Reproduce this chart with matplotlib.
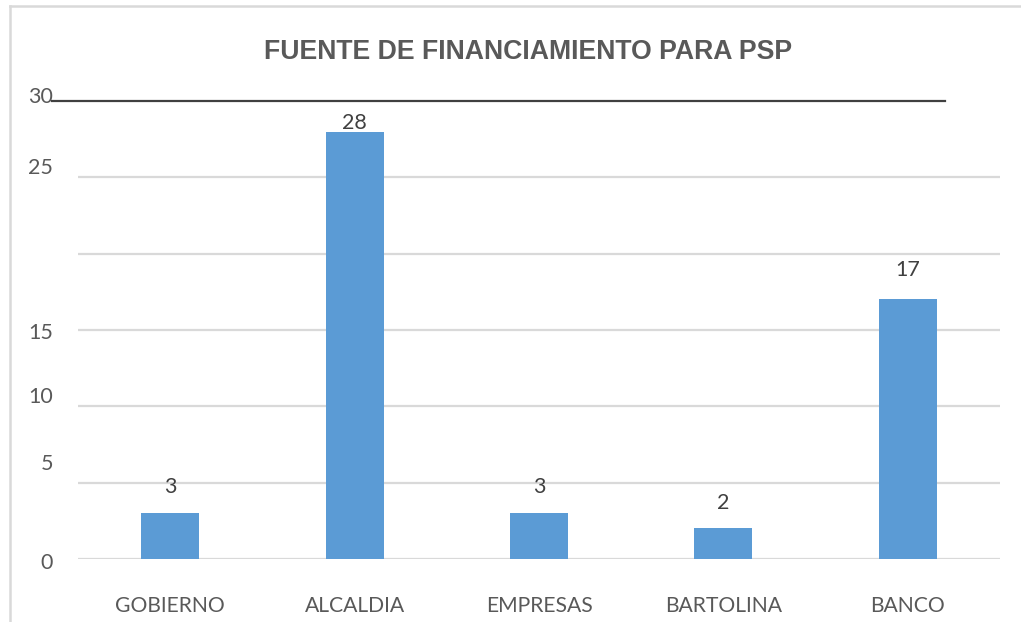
import matplotlib
matplotlib.use("Agg")
import matplotlib.pyplot as plt
from matplotlib.lines import Line2D

categories = ["GOBIERNO", "ALCALDIA", "EMPRESAS", "BARTOLINA", "BANCO"]
values = [3, 28, 3, 2, 17]
ytick_values = [0, 5, 10, 15, 25, 30]
ytick_labels = ["0", "5", "10", "15", "25", "30"]
title = "FUENTE DE FINANCIAMIENTO PARA PSP"

# style
bar_color = "#5B9BD5"
text_color = "#595959"
grid_color = "#D9D9D9"
label_font = "Lato"
# pixel nudges of the y labels relative to their gridline (as seen in the reference)
ylabel_nudge_px = [-4, 19, 9, -3, 9, 4]
value_label_offset_px = [26, 9, 26, 25, 29]

W, H = 1021, 622
fig = plt.figure(figsize=(W / 100, H / 100), dpi=100)
ax = fig.add_axes([78 / W, (H - 559) / H, (1000 - 78) / W, (559 - 101) / H])

x = list(range(len(categories)))
ax.bar(x, values, width=0.315, color=bar_color, zorder=3)
ax.set_xlim(-0.5, len(categories) - 0.5)
ax.set_ylim(0, 30)

# gridlines (20 has a line but no label)
for g in [0, 5, 10, 15, 20, 25]:
    ax.axhline(g, color=grid_color, lw=1.6, zorder=1)
# dark line at top value
ax.plot([-0.028, 0.94], [30, 30], transform=ax.get_yaxis_transform(),
        color="#404040", lw=1.6, clip_on=False, zorder=4)

for s in ax.spines.values():
    s.set_visible(False)
ax.set_yticks([])
ax.set_xticks(x)
ax.set_xticklabels(categories, fontsize=15.2, color=text_color, family=label_font)
ax.tick_params(axis="x", length=0, pad=27)

for v, lab, nud in zip(ytick_values, ytick_labels, ylabel_nudge_px):
    ax.annotate(lab, xy=(0, v), xycoords=ax.get_yaxis_transform(),
                xytext=(53 - 78, nud), textcoords="offset pixels",
                ha="right", va="center", fontsize=15.5, color=text_color,
                family=label_font, annotation_clip=False)

for xi, v, off in zip(x, values, value_label_offset_px):
    ax.annotate(str(v), xy=(xi, v), xytext=(0, off), textcoords="offset pixels",
                ha="center", va="center", fontsize=15.5, color="#404040",
                family=label_font, zorder=5)

fig.text(528 / W, 1 - 52 / H, title, ha="center", va="center", fontsize=19.2,
         fontweight="bold", color=text_color, family="Liberation Sans")

# chart area frame (partially cropped in the reference)
fig.add_artist(Line2D([10 / W, 1.0], [1 - 6 / H, 1 - 6 / H], transform=fig.transFigure,
                      color=grid_color, lw=1.8))
fig.add_artist(Line2D([10 / W, 10 / W], [0, 1 - 6 / H], transform=fig.transFigure,
                      color=grid_color, lw=1.8))

fig.savefig("out.png", dpi=100, facecolor="white")
